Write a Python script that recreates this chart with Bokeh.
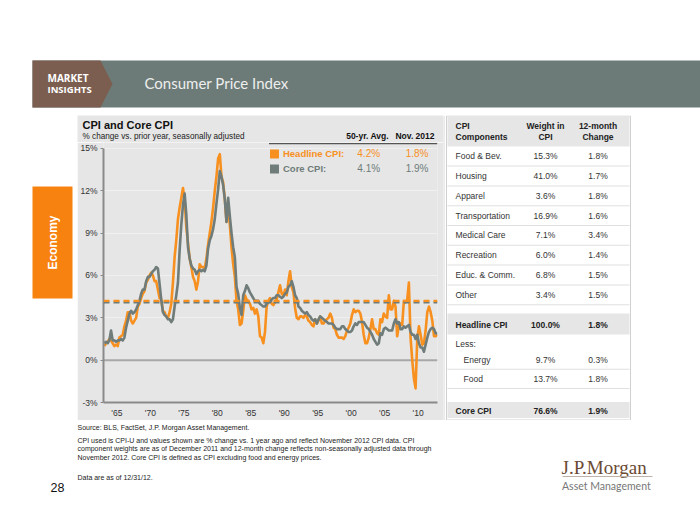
from math import pi
from bokeh.plotting import figure
from bokeh.layouts import row, column
from bokeh.models import Range1d, FixedTicker, PrintfTickFormatter, Span
from bokeh.core.properties import value
from bokeh.embed import file_html
from bokeh.resources import INLINE

# ---------------- data (quarterly, % change vs. prior year) ----------------
headline = [
    1.0, 1.2, 1.3, 1.5,   1.4, 1.2, 1.0, 1.1,   1.0, 1.6, 1.7, 1.8,   2.4, 2.8, 3.4, 3.4,
    2.8, 2.6, 2.8, 3.0,   3.8, 4.0, 4.4, 4.7,   4.9, 5.5, 5.7, 6.0,   6.2, 6.0, 5.6, 5.6,
    5.0, 4.4, 4.3, 3.5,   3.4, 3.1, 3.0, 3.4,   4.0, 5.5, 7.3, 8.5,   10.0, 10.8, 11.5, 12.2,
    11.3, 9.4, 8.3, 7.2,  6.6, 5.9, 5.6, 5.0,   5.6, 6.8, 6.6, 6.6,   6.5, 7.2, 8.2, 9.0,
    9.8, 10.8, 12.0, 13.0, 14.3, 14.6, 13.0, 12.6, 11.4, 9.8, 10.8, 9.6, 8.0, 6.8, 5.9, 4.2,
    3.6, 2.5, 2.6, 3.5,   4.6, 4.3, 4.2, 4.0,   3.6, 3.7, 3.3, 3.6,   3.1, 1.7, 1.6, 1.2,
    2.0, 3.8, 4.2, 4.4,   4.0, 3.9, 4.1, 4.3,   4.8, 5.3, 4.7, 4.6,   5.0, 4.6, 5.6, 6.3,
    5.2, 4.8, 3.7, 3.0,   2.9, 3.1, 3.1, 3.0,   3.2, 3.1, 2.8, 2.7,   2.5, 2.4, 2.9, 2.6,
    2.8, 3.1, 2.6, 2.6,   2.8, 2.9, 3.0, 3.3,   3.0, 2.3, 2.2, 1.8,   1.6, 1.6, 1.6, 1.5,
    1.7, 2.1, 2.3, 2.6,   3.2, 3.6, 3.4, 3.5,   3.5, 3.3, 2.7, 1.8,   1.2, 1.2, 1.6, 2.2,
    2.9, 2.2, 2.2, 1.9,   1.8, 2.9, 2.7, 3.3,   3.1, 3.0, 4.6, 3.6,   3.6, 4.2, 3.8, 1.7,
    2.4, 2.6, 2.5, 4.2,   4.1, 4.3, 5.5, 1.6,   0.0, -1.3, -2.0, 1.5, 2.4, 1.8, 1.1, 1.2,
    2.1, 3.4, 3.8, 3.4,   2.8, 1.7, 1.7, 1.8,
]
core = [
    1.2, 1.3, 1.2, 1.4,   2.1, 1.4, 1.4, 1.3,   1.4, 1.4, 1.5, 1.4,   1.6, 2.3, 2.8, 3.3,
    3.5, 3.3, 3.4, 3.6,   3.9, 4.2, 4.7, 5.0,   5.0, 5.6, 5.9, 5.9,   6.1, 6.3, 6.4, 6.6,
    6.5, 5.4, 4.3, 3.4,   3.2, 3.1, 2.9, 2.9,   2.7, 2.9, 3.8, 4.6,   5.5, 7.8, 9.6, 11.0,
    11.8, 10.3, 8.0, 7.2, 6.7, 6.5, 6.4, 6.1,   6.3, 6.4, 6.3, 6.4,   6.3, 6.7, 7.9, 8.5,
    8.8, 9.3, 10.0, 11.1, 12.1, 13.4, 13.0, 12.4, 11.4, 9.8, 11.5, 10.2, 9.0, 8.0, 7.3, 5.2,
    4.7, 3.7, 3.2, 4.6,   4.9, 5.3, 5.1, 4.8,   4.6, 4.4, 4.2, 4.2,   4.2, 4.0, 3.9, 3.8,
    3.8, 4.0, 4.1, 4.1,   4.3, 4.4, 4.4, 4.6,   4.6, 4.5, 4.4, 4.5,   4.7, 4.8, 5.2, 5.3,
    5.6, 5.2, 4.6, 4.4,   3.8, 3.7, 3.5, 3.4,   3.3, 3.4, 3.2, 3.1,   2.9, 2.8, 2.9, 2.6,
    2.9, 3.1, 3.0, 2.9,   2.8, 2.7, 2.6, 2.6,   2.6, 2.5, 2.3, 2.2,   2.2, 2.2, 2.4, 2.4,
    2.2, 2.1, 2.0, 2.0,   2.1, 2.4, 2.6, 2.5,   2.7, 2.7, 2.7, 2.7,   2.5, 2.3, 2.2, 2.0,
    1.8, 1.5, 1.3, 1.1,   1.2, 1.9, 1.8, 2.2,   2.3, 2.2, 2.1, 2.1,   2.1, 2.6, 2.9, 2.6,
    2.7, 2.2, 2.2, 2.4,   2.3, 2.4, 2.5, 2.0,   1.8, 1.8, 1.5, 1.8,   1.2, 0.9, 0.9, 0.6,
    1.1, 1.6, 2.0, 2.2,   2.3, 2.2, 1.9, 1.9,
]
years = [1963 + (i + 0.5) / 4 for i in range(len(headline))]

avg_headline, avg_core = 4.2, 4.1
nov_headline, nov_core = 1.8, 1.9

y_ticks = [-3, 0, 3, 6, 9, 12, 15]
x_ticks = [1965, 1970, 1975, 1980, 1985, 1990, 1995, 2000, 2005, 2010]
x_tick_labels = ["'65", "'70", "'75", "'80", "'85", "'90", "'95", "'00", "'05", "'10"]

components = ["Food & Bev.", "Housing", "Apparel", "Transportation", "Medical Care",
              "Recreation", "Educ. & Comm.", "Other"]
weights = ["15.3%", "41.0%", "3.6%", "16.9%", "7.1%", "6.0%", "6.8%", "3.4%"]
changes = ["1.8%", "1.7%", "1.8%", "1.6%", "3.4%", "1.4%", "1.5%", "1.5%"]
less_items = ["Energy", "Food"]
less_weights = ["9.7%", "13.7%"]
less_changes = ["0.3%", "1.8%"]

# ---------------- colours ----------------
ORANGE = "#F7901E"
CORE = "#6F7C79"
PANEL = "#E6E6E6"
BAND = "#6C7B77"
BROWN = "#7B5E4F"
TXT = "#222222"
SANS = "Liberation Sans"


# ---------------- helpers ----------------
def page_fig(x0, x1, y0, y1, bg="white"):
    """A figure whose data coordinates are page pixels (y downwards)."""
    f = figure(width=x1 - x0, height=y1 - y0, title=None,
               x_range=Range1d(x0, x1), y_range=Range1d(y1, y0),
               output_backend="svg", toolbar_location=None,
               x_axis_type=None, y_axis_type=None,
               min_border=0, min_border_left=0, min_border_right=0,
               min_border_top=0, min_border_bottom=0,
               outline_line_color=None, frame_align=False,
               background_fill_color=bg, border_fill_color=bg)
    return f


def rect(f, l, t, r, b, color, line=None, **kw):
    f.quad(left=[l], right=[r], top=[t], bottom=[b], fill_color=color,
           line_color=line, **kw)


def txt(f, x, y, s, size, color=TXT, bold=False, align="left", font=SANS,
        angle=0.0, **kw):
    f.text(x=[x], y=[y], text=[s], text_font=value(font),
           text_font_size=value(f"{size}px"), text_color=color,
           text_align=align, text_baseline="middle",
           text_font_style="bold" if bold else "normal", angle=angle, **kw)


def col_txt(f, x, ys, items, size, color=TXT, bold=False, align="left"):
    f.text(x=[x] * len(items), y=ys, text=items, text_font=value(SANS),
           text_font_size=value(f"{size}px"), text_color=color,
           text_align=align, text_baseline="middle",
           text_font_style="bold" if bold else "normal")


# ---------------- header (page y 0..115) ----------------
f_top = page_fig(0, 700, 0, 115)
rect(f_top, 32, 60, 700, 107, BAND)
f_top.patch([32, 100, 112, 100, 32], [60, 60, 83.5, 107, 107],
            fill_color=BROWN, line_color=None)
txt(f_top, 47, 77.5, "MARKET", 10, "white", bold=True, font="Open Sans")
txt(f_top, 47, 88.5, "INSIGHTS", 9.5, "white", bold=True, font="Open Sans")
txt(f_top, 144, 82.5, "Consumer Price Index", 15, "#EEEEEE", font="Lato")

# ---------------- left side tab (page x 0..77) ----------------
f_left = page_fig(0, 77, 115, 420)
rect(f_left, 32, 186, 72, 298, "#F7820F")
txt(f_left, 52.5, 242, "Economy", 12, "white", bold=True, align="center",
    angle=pi / 2)

# ---------------- chart heading (page x 77..443, y 115..142) ----------------
f_ctop = page_fig(77, 443, 115, 142, bg=PANEL)
txt(f_ctop, 82, 124.5, "CPI and Core CPI", 11, "#111111", bold=True)
txt(f_ctop, 82, 135.5, "% change vs. prior year, seasonally adjusted", 8.2, TXT)
txt(f_ctop, 367, 135.5, "50-yr. Avg.", 8.5, "#111111", bold=True, align="center")
txt(f_ctop, 414.5, 135.5, "Nov. 2012", 8.5, "#111111", bold=True, align="center")

# ---------------- chart (page x 77..443, y 142..420) ----------------
FL, FR, FT, FB = 102, 437, 142, 403        # frame in page pixels
Y15 = 148                                   # page y of the 15% tick
px_per_pct = (FB - Y15) / (15 - (-3))
p = figure(width=443 - 77, height=420 - 142, title=None,
           output_backend="svg", toolbar_location=None,
           x_range=Range1d(1963.0, 2012.9),
           y_range=Range1d(-3, 15 + (Y15 - FT) / px_per_pct),
           min_border_left=FL - 77, min_border_right=443 - FR,
           min_border_top=0, min_border_bottom=420 - FB,
           background_fill_color=PANEL, border_fill_color=PANEL,
           outline_line_color=None, frame_align=False)
p.extra_x_ranges = {"px": Range1d(FL, FR)}
p.extra_y_ranges = {"py": Range1d(FB, FT)}

p.yaxis.ticker = FixedTicker(ticks=y_ticks)
p.yaxis.formatter = PrintfTickFormatter(format="%d%%")
p.yaxis.bounds = (-3, 15)
p.yaxis.major_tick_out = 3
p.yaxis.major_label_standoff = 3
p.xaxis.ticker = FixedTicker(ticks=x_ticks)
p.xaxis.major_label_overrides = dict(zip(x_ticks, x_tick_labels))
p.xaxis.major_tick_out = 0
p.xaxis.major_label_standoff = 5
for ax in (p.xaxis, p.yaxis):
    ax.axis_line_color = "#8A8A8A"
    ax.axis_line_width = 2
    ax.major_tick_line_color = "#8A8A8A"
    ax.major_tick_in = 0
    ax.minor_tick_line_color = None
    ax.major_label_text_font = SANS
    ax.major_label_text_font_size = "8.5px"
    ax.major_label_text_color = "#333333"
p.xgrid.grid_line_color = None
p.ygrid.ticker = FixedTicker(ticks=y_ticks[1:])
p.ygrid.grid_line_color = "#F0F0F0"

p.add_layout(Span(location=0, dimension="width", line_color="#A8A8A8",
                  line_width=2, level="underlay"))

p.line(years, headline, line_color=ORANGE, line_width=2.6, line_join="round")
p.line(years, core, line_color=CORE, line_width=2.6, line_join="round")

p.add_layout(Span(location=avg_core, dimension="width", line_color=CORE,
                  line_width=2.2, line_dash="6 4"))
p.add_layout(Span(location=avg_headline, dimension="width", line_color=ORANGE,
                  line_width=2.2, line_dash="6 4"))

# legend (page pixel positions via the px/py ranges)
PK = dict(x_range_name="px", y_range_name="py")
rect(p, 268, 142.6, 437, 143.8, "#555555", **PK)
rect(p, 269, 149, 278, 158, ORANGE, **PK)
rect(p, 269, 164, 278, 173, CORE, **PK)
txt(p, 282, 153.5, "Headline CPI:", 9.5, ORANGE, bold=True, **PK)
txt(p, 282, 168.5, "Core CPI:", 9.5, CORE, bold=True, **PK)
txt(p, 368, 153.5, f"{avg_headline:.1f}%", 10, ORANGE, align="center", **PK)
txt(p, 416.5, 153.5, f"{nov_headline:.1f}%", 10, ORANGE, align="center", **PK)
txt(p, 368, 168.5, f"{avg_core:.1f}%", 10, CORE, align="center", **PK)
txt(p, 416.5, 168.5, f"{nov_core:.1f}%", 10, CORE, align="center", **PK)

# ---------------- table (page x 443..700, y 115..420) ----------------
f_tab = page_fig(443, 700, 115, 420)
rect(f_tab, 443, 115, 443.8, 420, "#BDBDBD")      # panel edge shadow
TL, TR = 446, 630
C1, C2 = 545, 597.5
rect(f_tab, TL, 115.5, TR, 419.5, "white", line="#D0D0D0")
rect(f_tab, TL + 1, 116, TR - 1, 146, "#E6E6E6")
txt(f_tab, 455, 125, "CPI", 8.5, bold=True)
txt(f_tab, 455, 136.5, "Components", 8.5, bold=True)
txt(f_tab, C1, 125, "Weight in", 8.5, bold=True, align="center")
txt(f_tab, C1, 136.5, "CPI", 8.5, bold=True, align="center")
txt(f_tab, C2, 125, "12-month", 8.5, bold=True, align="center")
txt(f_tab, C2, 136.5, "Change", 8.5, bold=True, align="center")

row0, step = 155.7, 19.8
ys = [row0 + i * step for i in range(len(components))]
col_txt(f_tab, 455, ys, components, 8.5, "#333333")
col_txt(f_tab, C1, ys, weights, 8.5, "#333333", align="center")
col_txt(f_tab, C2, ys, changes, 8.5, "#333333", align="center")
seps = [y + step / 2 for y in ys]
f_tab.quad(left=TL + 1, right=TR - 1, top=[s - 0.5 for s in seps],
           bottom=[s + 0.5 for s in seps], fill_color="#E0E0E0", line_color=None)

rect(f_tab, TL + 1, 313, TR - 1, 334, "#E6E6E6")
txt(f_tab, 455, 324, "Headline CPI", 8.5, bold=True)
txt(f_tab, C1, 324, "100.0%", 8.5, bold=True, align="center")
txt(f_tab, C2, 324, f"{nov_headline:.1f}%", 8.5, bold=True, align="center")
txt(f_tab, 455, 343.3, "Less:", 8.5, "#333333")
ys2 = [359, 378.4]
col_txt(f_tab, 463, ys2, less_items, 8.5, "#333333")
col_txt(f_tab, C1, ys2, less_weights, 8.5, "#333333", align="center")
col_txt(f_tab, C2, ys2, less_changes, 8.5, "#333333", align="center")
f_tab.quad(left=TL + 1, right=TR - 1, top=[y + 9.2 for y in ys2],
           bottom=[y + 10.2 for y in ys2], fill_color="#E0E0E0", line_color=None)
rect(f_tab, TL + 1, 401.5, TR - 1, 417.5, "#E6E6E6")
txt(f_tab, 455, 410, "Core CPI", 8.5, bold=True)
txt(f_tab, C1, 410, "76.6%", 8.5, bold=True, align="center")
txt(f_tab, C2, 410, f"{nov_core:.1f}%", 8.5, bold=True, align="center")

# ---------------- footer (page y 420..525) ----------------
f_bot = page_fig(0, 700, 420, 525)
notes = [
    "Source: BLS, FactSet, J.P. Morgan Asset Management.",
    "CPI used is CPI-U and values shown are % change vs. 1 year ago and reflect November 2012 CPI data. CPI",
    "component weights are as of December 2011 and 12-month change reflects non-seasonally adjusted data through",
    "November 2012. Core CPI is defined as CPI excluding food and energy prices.",
    "Data are as of 12/31/12.",
]
col_txt(f_bot, 77, [427, 440, 448.3, 456.6, 476.7], notes, 7, TXT)
txt(f_bot, 50, 487, "28", 12.5, "#111111")
txt(f_bot, 561, 466.5, "J.P.Morgan", 19, "#6B4A35", font="Liberation Serif")
rect(f_bot, 562, 475.6, 652, 476.4, "#BDB3AB")
txt(f_bot, 561.5, 485.5, "Asset Management", 10.5, "#777777", font="Lato")

layout = column(f_top,
                row(f_left, column(f_ctop, p), f_tab),
                f_bot)

open("out.html", "w").write(file_html(layout, INLINE))
